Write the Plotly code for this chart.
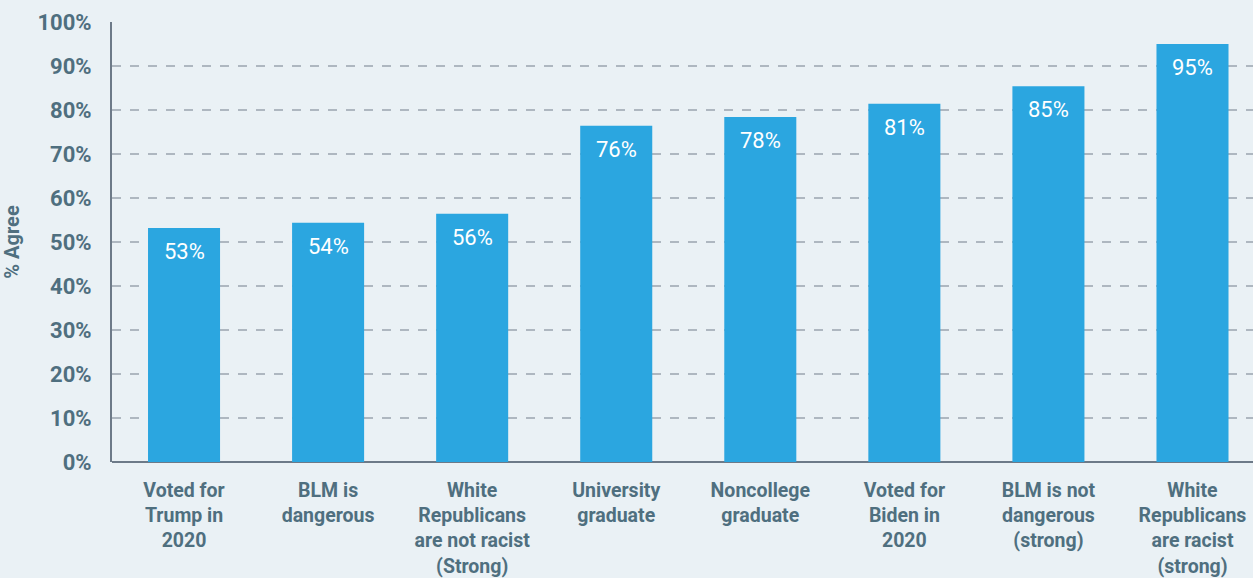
import plotly.graph_objects as go

categories = [
    "Voted for<br>Trump in<br>2020",
    "BLM is<br>dangerous",
    "White<br>Republicans<br>are not racist<br>(Strong)",
    "University<br>graduate",
    "Noncollege<br>graduate",
    "Voted for<br>Biden in<br>2020",
    "BLM is not<br>dangerous<br>(strong)",
    "White<br>Republicans<br>are racist<br>(strong)",
]
values = [53.2, 54.4, 56.4, 76.4, 78.4, 81.4, 85.4, 95.0]
labels = ["53%", "54%", "56%", "76%", "78%", "81%", "85%", "95%"]
y_ticks = [0, 10, 20, 30, 40, 50, 60, 70, 80, 90, 100]
y_ticklabels = [f"{v}%" for v in y_ticks]

FONT = "Roboto, Arial, sans-serif"
TXT = "#4f6f7f"
BG = "#eaf1f5"

fig = go.Figure(go.Bar(
    x=categories,
    y=values,
    marker=dict(color="#2ba6e0", line=dict(width=0)),
    width=0.5,
    hoverinfo="skip",
))

for c, v, t in zip(categories, values, labels):
    fig.add_annotation(
        x=c, y=v, text=t, showarrow=False,
        yanchor="top", yshift=-9,
        font=dict(family=FONT, size=22, color="white"),
    )

fig.update_layout(
    width=1253, height=578,
    paper_bgcolor=BG, plot_bgcolor=BG,
    margin=dict(l=112, r=0, t=22, b=114),
    showlegend=False,
    font=dict(family=FONT, color=TXT),
)
fig.update_xaxes(
    range=[-0.5, 7.42],
    showline=False, showgrid=False,
    tickfont=dict(family=FONT, size=19.5, color=TXT, weight="bold"),
    ticks="", ticklabelstandoff=14,
)
fig.update_yaxes(
    range=[0, 100],
    tickvals=y_ticks, ticktext=y_ticklabels,
    tickfont=dict(family=FONT, size=22, color=TXT, weight="bold"),
    showgrid=True, gridcolor="#aeb7c0", griddash="dash", gridwidth=1.5,
    showline=True, linecolor="#6d7a88", linewidth=2,
    zeroline=True, zerolinecolor="#6d7a88", zerolinewidth=2,
    ticks="", ticklabelstandoff=14,
    title=dict(text="% Agree", font=dict(family=FONT, size=20, color=TXT, weight="bold"), standoff=14),
)

fig.write_html(
    "out.html",
    config={"displayModeBar": False},
    post_script="document.body.style.margin='0';document.body.style.padding='0';",
)
